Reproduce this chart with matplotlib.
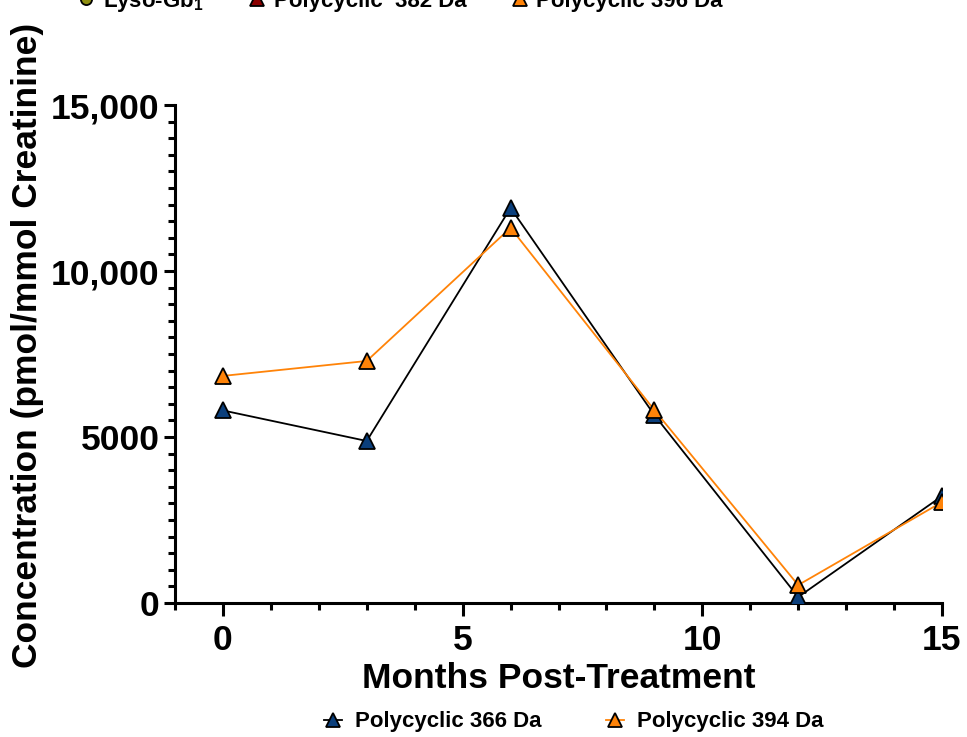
import numpy as np
import matplotlib
matplotlib.use("Agg")
import matplotlib.pyplot as plt
from matplotlib.lines import Line2D
from matplotlib.ticker import MultipleLocator

plt.rcParams['font.family'] = ['Liberation Sans', 'DejaVu Sans']
plt.rcParams['font.weight'] = 'bold'
plt.rcParams['mathtext.fontset'] = 'custom'
plt.rcParams['mathtext.rm'] = 'Liberation Sans:bold'
plt.rcParams['mathtext.default'] = 'rm'

# data
months = [0, 3, 6, 9, 12, 15]
poly366 = [5800, 4880, 11900, 5660, 180, 3220]
poly394 = [6840, 7290, 11300, 5810, 540, 3040]

yticks = [0, 5000, 10000, 15000]
ytick_labels = ["0", "5000", "10,000", "15,000"]
xticks = [0, 5, 10, 15]

navy = "#0B3F7C"
orange = "#FF8308"

fig = plt.figure(figsize=(9.67, 7.37), dpi=100)
ax = fig.add_axes([175/967, 1-603/737, 767/967, 498/737])

ax.plot(months, poly366, color="black", lw=1.3, marker="^", ms=11.5,
        mfc=navy, mec="black", mew=1.3, zorder=3)
ax.plot(months, poly394, color=orange, lw=1.3, marker="^", ms=11.5,
        mfc=orange, mec="black", mew=1.3, zorder=4)

ax.set_xlim(-1, 15)
ax.set_ylim(0, 15000)
ax.set_xticks(xticks)
ax.xaxis.set_minor_locator(MultipleLocator(1))
ax.set_yticks(yticks)
ax.set_yticklabels(ytick_labels)
ax.yaxis.set_minor_locator(MultipleLocator(500))

for s in ["top", "right"]:
    ax.spines[s].set_visible(False)
for s in ["left", "bottom"]:
    ax.spines[s].set_linewidth(2.2)
ax.tick_params(axis="both", which="major", labelsize=25.5, width=2.2, length=8)
ax.tick_params(axis="x", which="major", length=9, pad=6)
ax.tick_params(axis="both", which="minor", width=2.2, length=5)
ax.tick_params(axis="y", which="major", pad=3)

ax.set_xlabel("Months Post-Treatment", fontsize=25.5, fontweight="bold", labelpad=4)
ax.set_ylabel("Concentration (pmol/mmol Creatinine)", fontsize=25.5,
              fontweight="bold", va="center")
ax.yaxis.set_label_coords((28-175)/767, 0.518)

legend_font = {"size": 16, "weight": "bold"}

# bottom legend
h1 = Line2D([], [], color="black", lw=1.3, marker="^", ms=10.5, mfc=navy,
            mec="black", mew=1.3)
h2 = Line2D([], [], color=orange, lw=1.3, marker="^", ms=10.5, mfc=orange,
            mec="black", mew=1.3)
fig.legend([h1, h2], ["Polycyclic 366 Da", "Polycyclic 394 Da"], ncol=2,
           loc="center", bbox_to_anchor=(574/967, 1-722/737), frameon=False,
           prop=legend_font, handlelength=0.8, handletextpad=0.6,
           columnspacing=2.9, borderpad=0)

# top legend, cut off by the picture edge
t1 = Line2D([], [], color="none", marker="o", ms=8, mfc="#8E8E10",
            mec="black", mew=1.3)
t2 = Line2D([], [], color="none", marker="^", ms=10.5, mfc="#8B0000",
            mec="black", mew=1.3)
t3 = Line2D([], [], color="none", marker="^", ms=10.5, mfc=orange,
            mec="black", mew=1.3)
fig.legend([t1, t2, t3], ["Lyso-Gb$_1$", "Polycyclic  382 Da", "Polycyclic 396 Da"],
           ncol=3, loc="center", bbox_to_anchor=(400/967, 1-1/737), frameon=False,
           prop=legend_font, handlelength=0.8, handletextpad=0.35,
           columnspacing=2.0, borderpad=0)

fig.savefig("out.png", dpi=100)
